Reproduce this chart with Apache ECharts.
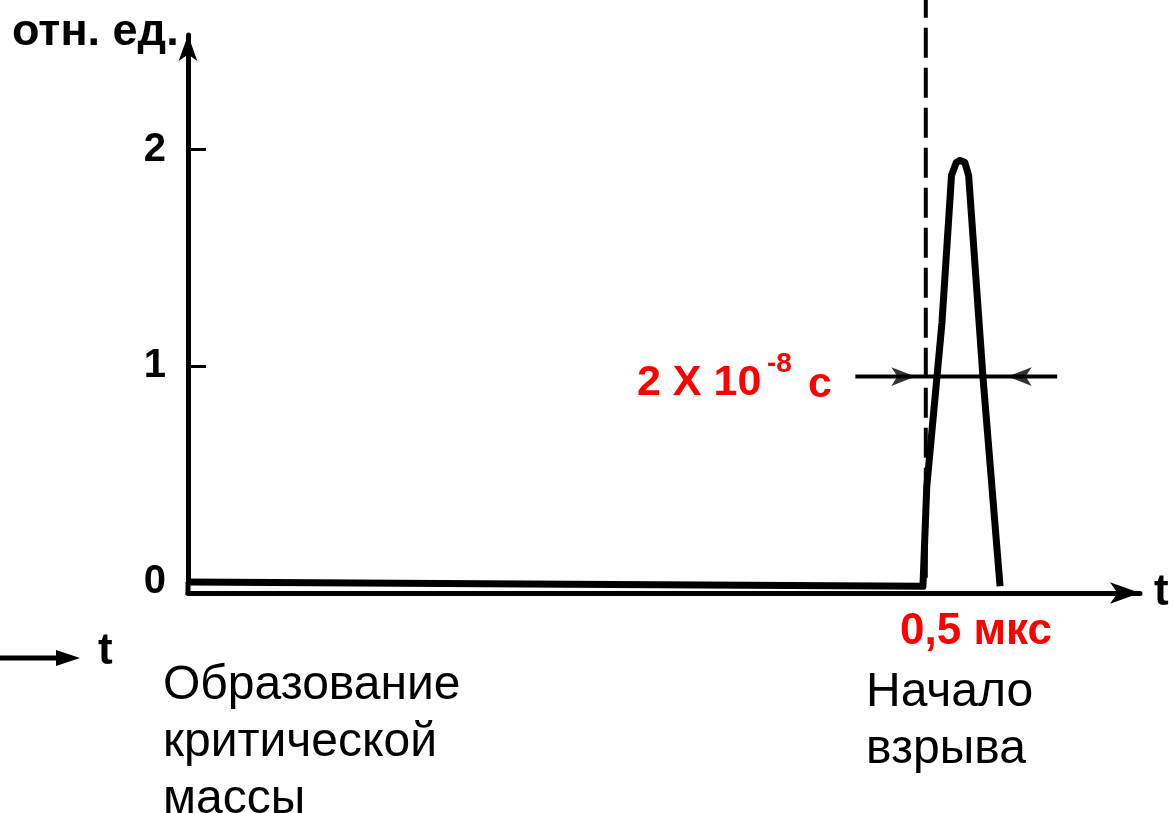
<!DOCTYPE html>
<html>
<head>
<meta charset="utf-8">
<script src="https://cdn.jsdelivr.net/npm/echarts@6/dist/echarts.min.js"></script>
<style>
  html, body { margin: 0; padding: 0; background: #ffffff; }
  #main { width: 1173px; height: 813px; }
</style>
</head>
<body>
<div id="main"></div>
<script>
// pulse (x in arbitrary time units, y in отн. ед.)
const pulseX = [0, 40, 77.2, 77.6, 79.2, 80.2, 80.7, 81.1, 81.6, 82.0, 83.5, 85.3];
const pulseY = [0, -0.01, -0.02, 0.44, 1.2, 1.88, 1.94, 1.95, 1.94, 1.88, 0.95, -0.02];

// start of explosion (dashed line) and width marker
const startX = 77.5;
const widthArrowX = [70.1, 91.3];
const widthArrowY = 0.95;
const arrowHeadX = [76.4, 86.1];

const yTicks = [0, 1, 2];

const chartDom = document.getElementById('main');
const myChart = echarts.init(chartDom);

const FONT = 'Liberation Sans, Arial, sans-serif';

const option = {
    backgroundColor: '#ffffff',
    animation: false,
    grid: { left: 188, right: 33, top: 35, bottom: 231 },
    xAxis: {
        type: 'value',
        min: 0,
        max: 100,
        name: 't',
        nameGap: 14,
        nameTextStyle: { fontSize: 44, fontWeight: 'bold', color: '#000', fontFamily: FONT, padding: [28, 0, 0, 0] },
        axisLine: {
            onZero: false,
            lineStyle: { color: '#000', width: 5 },
            symbol: ['none', 'arrow'],
            symbolSize: [16, 30]
        },
        offset: 11,
        axisTick: { show: false },
        axisLabel: { show: false },
        splitLine: { show: false }
    },
    yAxis: {
        type: 'value',
        min: 0,
        max: 2.53,
        interval: 1,
        axisLine: {
            lineStyle: { color: '#000', width: 5 },
            symbol: ['none', 'arrow'],
            symbolSize: [14, 26]
        },
        axisTick: { inside: true, length: 18, customValues: yTicks, lineStyle: { color: '#000', width: 3 } },
        axisLabel: {
            margin: 22,
            fontSize: 40,
            fontWeight: 'bold',
            color: '#000',
            fontFamily: FONT,
            customValues: yTicks
        },
        splitLine: { show: false }
    },
    series: [
        {
            name: 'pulse',
            type: 'line',
            data: pulseX.map((x, i) => [x, pulseY[i]]),
            symbol: 'none',
            clip: false,
            lineStyle: { color: '#000', width: 7, join: 'round' }
        },
        {
            // y axis continues down to the t axis
            name: 'axisFoot',
            type: 'line',
            data: [[0, 0], [0, -0.06]],
            symbol: 'none',
            clip: false,
            lineStyle: { color: '#000', width: 5 }
        },
        {
            name: 'start',
            type: 'line',
            data: [[startX, 0.02], [startX, 2.7]],
            symbol: 'none',
            clip: false,
            lineStyle: { color: '#000', width: 4, type: [30, 10] }
        },
        {
            name: 'widthLine',
            type: 'line',
            data: widthArrowX.map(x => [x, widthArrowY]),
            symbol: 'none',
            clip: false,
            lineStyle: { color: '#000', width: 4 }
        },
        {
            name: 'widthHeads',
            type: 'scatter',
            symbol: 'arrow',
            symbolSize: [14, 24],
            itemStyle: { color: '#000' },
            data: [
                { value: [arrowHeadX[0], widthArrowY], symbolRotate: -90 },
                { value: [arrowHeadX[1], widthArrowY], symbolRotate: 90 }
            ]
        }
    ],
    graphic: [
        {
            type: 'text', left: 12, top: 10,
            style: { text: 'отн. ед.', font: 'bold 45px ' + FONT, fill: '#000' }
        },
        {
            type: 'text', x: 637, y: 383,
            style: { text: '2 X 10', font: 'bold 43px ' + FONT, fill: '#ff0000', verticalAlign: 'middle' }
        },
        {
            type: 'text', x: 767, y: 364,
            style: { text: '-8', font: 'bold 28px ' + FONT, fill: '#ff0000', verticalAlign: 'middle' }
        },
        {
            type: 'text', x: 808, y: 385,
            style: { text: 'с', font: 'bold 43px ' + FONT, fill: '#ff0000', verticalAlign: 'middle' }
        },
        {
            type: 'text', x: 900, y: 632,
            style: { text: '0,5 мкс', font: 'bold 44px ' + FONT, fill: '#ff0000', verticalAlign: 'middle' }
        },
        {
            type: 'line',
            shape: { x1: 0, y1: 658, x2: 62, y2: 658 },
            style: { stroke: '#000', lineWidth: 5 }
        },
        {
            type: 'polygon',
            shape: { points: [[56, 650], [80, 658], [56, 666]] },
            style: { fill: '#000' }
        },
        {
            type: 'text', x: 98, y: 652,
            style: { text: 't', font: 'bold 44px ' + FONT, fill: '#000', verticalAlign: 'middle' }
        },
        {
            type: 'text', x: 163, y: 657,
            style: { text: 'Образование\nкритической\nмассы', font: '48px ' + FONT, fill: '#000', lineHeight: 57 }
        },
        {
            type: 'text', x: 866, y: 664,
            style: { text: 'Начало\nвзрыва', font: '48px ' + FONT, fill: '#000', lineHeight: 57 }
        }
    ]
};

myChart.setOption(option);
</script>
</body>
</html>
